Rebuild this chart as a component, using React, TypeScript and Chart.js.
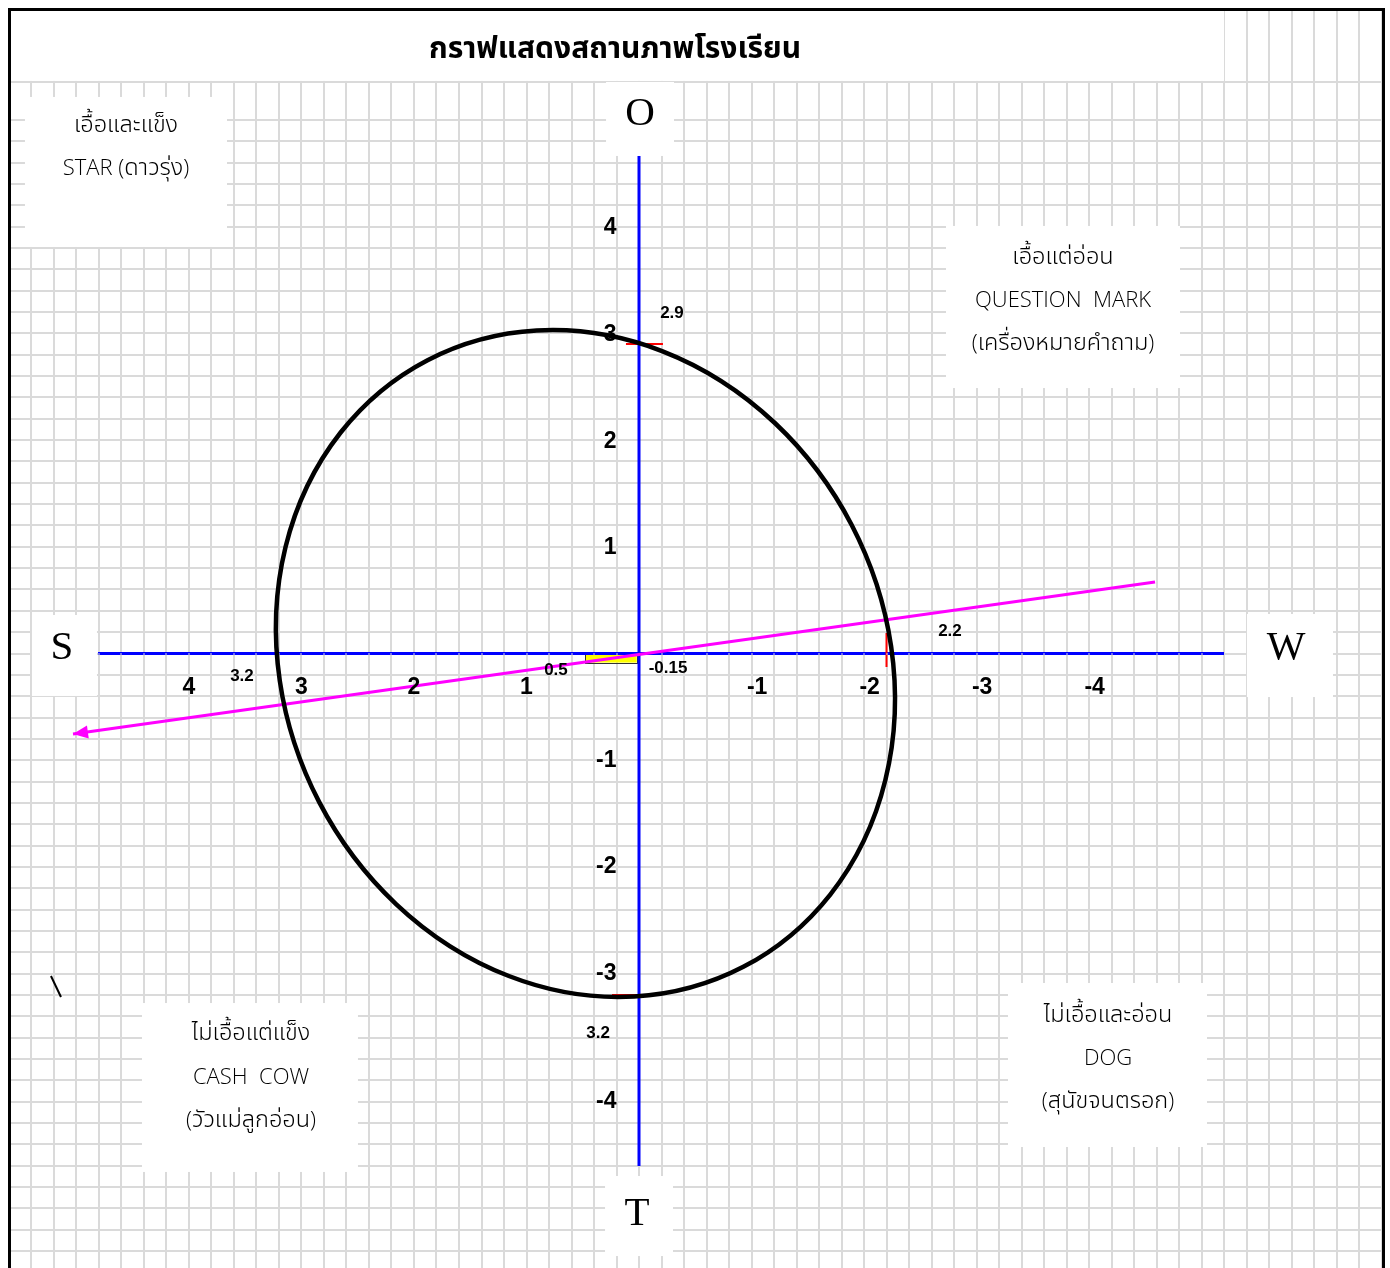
import React, { useEffect, useRef } from 'react';
import { Chart, registerables } from 'chart.js';

Chart.register(...registerables);

// ---- scale extents (data units) ----
const X_MIN = -6.6044;
const X_MAX = 5.5822;
const Y_MIN = -5.7591;
const Y_MAX = 6.0309;
const GRID_STEP = 0.2;

// ---- texts ----
const chartTitle = 'กราฟแสดงสถานภาพโรงเรียน';

const directionLetters = ['O', 'S', 'W', 'T'];
const directionX = [-0.009, 5.129, -5.751, 0.018];
const directionY = [5.05, 0.045, 0.045, -5.255];

const xAxisTickLabels = ['4', '3', '2', '1', '-1', '-2', '-3', '-4'];
const xAxisTickPos = [4, 3, 2, 1, -1.05, -2.05, -3.05, -4.05];
const yAxisTickLabels = ['4', '3', '2', '1', '-1', '-2', '-3', '-4'];
const yAxisTickPos = [3.99, 2.99, 1.99, 0.99, -1, -2, -3, -4.2];

const scoreLabels = ['2.9', '3.2', '0.5', '-0.15', '2.2', '3.2'];
const scoreX = [-0.293, 3.529, 0.738, -0.258, -2.764, 0.364];
const scoreY = [3.19, -0.211, -0.155, -0.136, 0.211, -3.557];

const starLines = ['เอื้อและแข็ง', 'STAR (ดาวรุ่ง)'];
const questionLines = ['เอื้อแต่อ่อน', 'QUESTION  MARK', '(เครื่องหมายคำถาม)'];
const cashCowLines = ['ไม่เอื้อแต่แข็ง', 'CASH  COW', '(วัวแม่ลูกอ่อน)'];
const dogLines = ['ไม่เอื้อและอ่อน', 'DOG', '(สุนัขจนตรอก)'];

// ---- marks ----
const horizontalAxis = [{ x: 4.809, y: 0 }, { x: -5.2, y: 0 }];
const verticalAxis = [{ x: 0, y: 4.663 }, { x: 0, y: -4.803 }];

const opportunityMark = [{ x: 0.116, y: 2.9 }, { x: -0.213, y: 2.9 }];
const threatMark = [{ x: 0.24, y: -3.2 }, { x: -0.098, y: -3.2 }];
const weaknessMark = [{ x: -2.2, y: 0.192 }, { x: -2.2, y: -0.127 }];

const strategyLine = [{ x: -4.587, y: 0.67 }, { x: 5.031, y: -0.755 }];

const resultBoxX = [0.02, 0.48];
const resultBoxY = [0, -0.085];

const ellipseCenter = [0.476, -0.094];
const ellipseRadius = [2.668, 3.205];
const ellipseTiltDeg = -27.5;

const strayMark = [{ x: 5.227, y: -3.022 }, { x: 5.138, y: -3.219 }];

// ---- layout / style (not data) ----
const GRID_COLOR = '#dadada';
const THAI_FONT = '"Noto Sans Thai", "Open Sans", "Leelawadee UI", Tahoma, sans-serif';
const LATIN_FONT = '"Open Sans", "Noto Sans", sans-serif';
const quadrantBoxes = [
  { lines: starLines, x0: 5.458, x1: 3.662, y0: 5.216, y1: 3.81, cx: 4.56, ly: [4.963, 4.559] },
  { lines: questionLines, x0: -2.729, x1: -4.809, y0: 4.007, y1: 2.488, cx: -3.769, ly: [3.725, 3.322, 2.919] },
  { lines: cashCowLines, x0: 4.418, x1: 2.498, y0: -3.276, y1: -4.859, cx: 3.449, ly: [-3.547, -3.96, -4.363] },
  { lines: dogLines, x0: -3.28, x1: -5.049, y0: -3.088, y1: -4.625, cx: -4.169, ly: [-3.379, -3.782, -4.185] },
];
const letterBoxes = [
  [0.293, -0.311, 5.356, 4.663],
  [5.396, 4.818, 0.361, -0.398],
  [-5.404, -6.169, 0.37, -0.408],
  [0.302, -0.302, -4.897, -5.647],
];
const titleBox = [X_MAX + 0.1, -5.2, Y_MAX + 0.1, 5.366];
const titleAnchor = [0.213, 5.635];
const titleRuleY = 5.356;
const yAxisLabelX = 0.2;
const xAxisLabelY = -0.323;

function gridTicks(min: number, max: number) {
  const out: { value: number }[] = [];
  for (let k = Math.ceil(min / GRID_STEP - 1e-9); k * GRID_STEP <= max + 1e-9; k++) {
    out.push({ value: Math.round(k * GRID_STEP * 10000) / 10000 });
  }
  return out;
}

// draw a line mixing Thai and Latin runs with different sizes, centred
function drawMixed(ctx: CanvasRenderingContext2D, s: string, cx: number, baseline: number) {
  const runs = s.split(/([\u0E00-\u0E7F]+)/).filter((r) => r.length > 0);
  const fontFor = (r: string) =>
    /[\u0E00-\u0E7F]/.test(r) ? `300 23.5px ${THAI_FONT}` : `300 22px ${LATIN_FONT}`;
  let total = 0;
  const widths = runs.map((r) => {
    ctx.font = fontFor(r);
    const w = ctx.measureText(r).width;
    total += w;
    return w;
  });
  let x = cx - total / 2;
  ctx.textAlign = 'left';
  ctx.textBaseline = 'alphabetic';
  runs.forEach((r, i) => {
    ctx.font = fontFor(r);
    ctx.fillText(r, x, baseline);
    x += widths[i];
  });
}

function buildConfig(): any {
  const overlay = {
    id: 'swotOverlay',
    beforeDatasetsDraw(chart: any) {
      const { ctx, scales, chartArea } = chart;
      const X = (v: number) => scales.x.getPixelForValue(v);
      const Y = (v: number) => scales.y.getPixelForValue(v);
      const rect = (b: number[]) => {
        const l = Math.min(X(b[0]), X(b[1]));
        const r = Math.max(X(b[0]), X(b[1]));
        const t = Math.min(Y(b[2]), Y(b[3]));
        const bt = Math.max(Y(b[2]), Y(b[3]));
        ctx.fillRect(l, t, r - l, bt - t);
      };
      ctx.save();
      ctx.strokeStyle = GRID_COLOR;
      ctx.lineWidth = 2;
      const ry = Math.round(Y(titleRuleY));
      ctx.beginPath();
      ctx.moveTo(chartArea.left, ry);
      ctx.lineTo(chartArea.right, ry);
      ctx.stroke();
      ctx.fillStyle = '#ffffff';
      rect(titleBox);
      quadrantBoxes.forEach((q) => rect([q.x0, q.x1, q.y0, q.y1]));
      letterBoxes.forEach((b) => rect(b));
      const l = Math.min(X(resultBoxX[0]), X(resultBoxX[1]));
      const r = Math.max(X(resultBoxX[0]), X(resultBoxX[1]));
      const t = Math.min(Y(resultBoxY[0]), Y(resultBoxY[1]));
      const b = Math.max(Y(resultBoxY[0]), Y(resultBoxY[1]));
      ctx.fillStyle = '#ffff00';
      ctx.fillRect(l, t, r - l, b - t);
      ctx.strokeStyle = '#333333';
      ctx.lineWidth = 1;
      ctx.strokeRect(Math.round(l) + 0.5, Math.round(t) + 0.5, Math.round(r - l), Math.round(b - t));
      ctx.restore();
    },
    afterDatasetsDraw(chart: any) {
      const { ctx, scales } = chart;
      const X = (v: number) => scales.x.getPixelForValue(v);
      const Y = (v: number) => scales.y.getPixelForValue(v);
      ctx.save();
      ctx.fillStyle = '#dcdcdc';
      const ay = Y(0);
      scales.x.ticks.forEach((tk: any) => {
        const v = tk.value;
        if (v < horizontalAxis[0].x && v > horizontalAxis[1].x && Math.abs(v) > 1e-6) {
          const px = Math.round(X(v));
          ctx.fillRect(px - 1, Math.round(ay) - 0.5, 2, 1);
        }
      });
      const p0 = strategyLine[0];
      const p1 = strategyLine[strategyLine.length - 1];
      const x0 = X(p0.x), y0 = Y(p0.y), x1 = X(p1.x), y1 = Y(p1.y);
      const ang = Math.atan2(y1 - y0, x1 - x0);
      const len = 15, half = 6.5;
      ctx.fillStyle = '#ff00ff';
      ctx.beginPath();
      ctx.moveTo(x1, y1);
      ctx.lineTo(x1 - len * Math.cos(ang) + half * Math.sin(ang), y1 - len * Math.sin(ang) - half * Math.cos(ang));
      ctx.lineTo(x1 - len * Math.cos(ang) - half * Math.sin(ang), y1 - len * Math.sin(ang) + half * Math.cos(ang));
      ctx.closePath();
      ctx.fill();
      const cx = X(ellipseCenter[0]);
      const cy = Y(ellipseCenter[1]);
      const rx = Math.abs(X(ellipseCenter[0] + ellipseRadius[0]) - cx);
      const rY = Math.abs(Y(ellipseCenter[1] + ellipseRadius[1]) - cy);
      ctx.strokeStyle = '#000000';
      ctx.lineWidth = 4.5;
      ctx.beginPath();
      ctx.ellipse(cx, cy, rx, rY, (ellipseTiltDeg * Math.PI) / 180, 0, Math.PI * 2);
      ctx.stroke();
      ctx.restore();
    },
    afterDraw(chart: any) {
      const { ctx, scales, chartArea } = chart;
      const X = (v: number) => scales.x.getPixelForValue(v);
      const Y = (v: number) => scales.y.getPixelForValue(v);
      const txt = (s: string, x: number, y: number, font: string, align: CanvasTextAlign = 'center') => {
        ctx.font = font;
        ctx.textAlign = align;
        ctx.textBaseline = 'middle';
        ctx.fillText(s, X(x), Y(y));
      };
      ctx.save();
      ctx.fillStyle = '#000000';
      txt(chartTitle, titleAnchor[0], titleAnchor[1], `bold 30px ${THAI_FONT}`);
      directionLetters.forEach((s, i) =>
        txt(s, directionX[i], directionY[i], '41px "Liberation Serif", "Times New Roman", serif'),
      );
      const tickFont = 'bold 23px "Liberation Sans", Arial, sans-serif';
      xAxisTickLabels.forEach((s, i) => txt(s, xAxisTickPos[i], xAxisLabelY, tickFont));
      yAxisTickLabels.forEach((s, i) => txt(s, yAxisLabelX, yAxisTickPos[i], tickFont, 'right'));
      scoreLabels.forEach((s, i) => txt(s, scoreX[i], scoreY[i], 'bold 17px "Liberation Sans", Arial, sans-serif'));
      quadrantBoxes.forEach((q) => {
        q.lines.forEach((line, i) => drawMixed(ctx, line, X(q.cx), Y(q.ly[i]) + 8));
      });
      ctx.strokeStyle = '#000000';
      ctx.lineWidth = 3;
      ctx.strokeRect(chartArea.left - 1.5, chartArea.top - 0.5, chartArea.right - chartArea.left + 3, 2000);
      ctx.restore();
    },
  };

  const seg = (data: any[], color: string, width: number, order: number) => ({
    data,
    showLine: true,
    borderColor: color,
    backgroundColor: color,
    borderWidth: width,
    pointRadius: 0,
    pointHoverRadius: 0,
    fill: false,
    tension: 0,
    order,
  });

  const hideTop = (c: any) => (c.tick && c.tick.value > 5.05 ? 'rgba(0,0,0,0)' : GRID_COLOR);

  return {
    type: 'scatter',
    data: {
      datasets: [
        seg(strategyLine, '#ff00ff', 3, 0),
        seg(opportunityMark, '#ff0000', 2, 1),
        seg(threatMark, '#ff0000', 2, 1),
        seg(weaknessMark, '#ff0000', 2, 1),
        seg(strayMark, '#000000', 2, 1),
        seg(horizontalAxis, '#0000ff', 3, 2),
        seg(verticalAxis, '#0000ff', 3, 2),
      ],
    },
    options: {
      responsive: false,
      animation: false,
      events: [],
      layout: { padding: { left: 11, right: 8, top: 10, bottom: 0 } },
      plugins: {
        legend: { display: false },
        tooltip: { enabled: false },
        title: { display: false },
      },
      scales: {
        x: {
          type: 'linear',
          reverse: true,
          min: X_MIN,
          max: X_MAX,
          ticks: { display: false, stepSize: GRID_STEP },
          afterBuildTicks: (axis: any) => {
            axis.ticks = gridTicks(X_MIN, X_MAX);
          },
          grid: { color: GRID_COLOR, lineWidth: 2, drawTicks: false },
          border: { display: false },
        },
        y: {
          type: 'linear',
          min: Y_MIN,
          max: Y_MAX,
          ticks: { display: false, stepSize: GRID_STEP },
          afterBuildTicks: (axis: any) => {
            axis.ticks = gridTicks(Y_MIN, Y_MAX);
          },
          grid: { color: hideTop, lineWidth: 2, drawTicks: false },
          border: { display: false },
        },
      },
    },
    plugins: [overlay],
  };
}

export default function App() {
  const ref = useRef<HTMLCanvasElement>(null);
  useEffect(() => {
    if (!ref.current) return;
    const chart = new Chart(ref.current, buildConfig());
    return () => chart.destroy();
  }, []);
  return (
    <div style={{ position: 'absolute', left: 0, top: 0, width: 1390, height: 1268, background: '#ffffff' }}>
      <canvas ref={ref} width={1390} height={1268} style={{ display: 'block' }} />
    </div>
  );
}
